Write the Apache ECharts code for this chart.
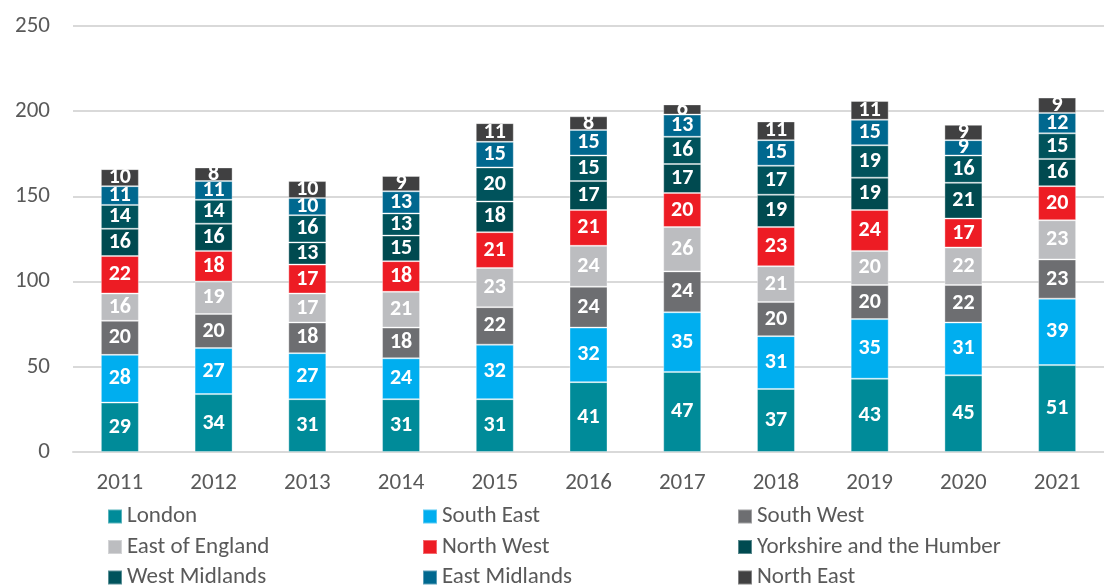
<!DOCTYPE html>
<html><head><meta charset="utf-8">
<script src="https://cdn.jsdelivr.net/npm/echarts@6/dist/echarts.min.js"></script>
<style>html,body{margin:0;padding:0;background:#fff}#c{width:1104px;height:588px}</style>
</head><body><div id="c"></div>
<script>
const years = ['2011','2012','2013','2014','2015','2016','2017','2018','2019','2020','2021'];
const london = [29,34,31,31,31,41,47,37,43,45,51];
const southEast = [28,27,27,24,32,32,35,31,35,31,39];
const southWest = [20,20,18,18,22,24,24,20,20,22,23];
const eastOfEngland = [16,19,17,21,23,24,26,21,20,22,23];
const northWest = [22,18,17,18,21,21,20,23,24,17,20];
const yorkshire = [16,16,13,15,18,17,17,19,19,21,16];
const westMidlands = [14,14,16,13,20,15,16,17,19,16,15];
const eastMidlands = [11,11,10,13,15,15,13,15,15,9,12];
const northEast = [10,8,10,9,11,8,6,11,11,9,9];
const yTicks = [0,50,100,150,200,250];

const seriesDefs = [
  ['London', london, '#008B99'],
  ['South East', southEast, '#00AEEF'],
  ['South West', southWest, '#6D6E71'],
  ['East of England', eastOfEngland, '#BCBDC0'],
  ['North West', northWest, '#ED1C24'],
  ['Yorkshire and the Humber', yorkshire, '#004A50'],
  ['West Midlands', westMidlands, '#00535C'],
  ['East Midlands', eastMidlands, '#00688F'],
  ['North East', northEast, '#404041']
];
const font = 'Calibri, Carlito, "Open Sans", "Noto Sans", sans-serif';
const chart = echarts.init(document.getElementById('c'), null, {renderer:'canvas'});
const legendStyle = {fontSize:23, color:'#595959', fontFamily:font, lineHeight:23};
function leg(left, names){
  return {orient:'vertical', left:left, top:505, height:140, itemWidth:14, itemHeight:14, itemGap:7.5,
    icon:'rect', textStyle:legendStyle, data:names, selectedMode:false, padding:0};
}
chart.setOption({
  animation:false,
  color: seriesDefs.map(s=>s[2]),
  grid:{left:73, top:26, width:1046, height:426, containLabel:false},
  legend:[
    leg(107, ['London','East of England','West Midlands']),
    leg(422, ['South East','North West','East Midlands']),
    leg(737, ['South West','Yorkshire and the Humber','North East'])
  ],
  xAxis:{type:'category', data:years,
    axisLine:{lineStyle:{color:'#D9D9D9', width:2}}, axisTick:{show:false},
    axisLabel:{fontSize:23, color:'#595959', fontFamily:font, margin:20}},
  yAxis:{type:'value', min:0, max:250, interval:50,
    axisLabel:{fontSize:23, color:'#595959', fontFamily:font, margin:23,
      formatter:v=>yTicks.includes(v)?String(v):''},
    splitLine:{lineStyle:{color:'#D9D9D9', width:2}}, axisLine:{show:false}, axisTick:{show:false}},
  series: seriesDefs.map(([name,data,color])=>({
    name, type:'bar', stack:'total', data, barWidth:38,
    itemStyle:{color, borderColor:'rgba(255,255,255,0.35)', borderWidth:1},
    label:{show:true, position:'inside', color:'#fff', fontWeight:'bold', fontSize:22, fontFamily:font}
  }))
});
</script></body></html>
